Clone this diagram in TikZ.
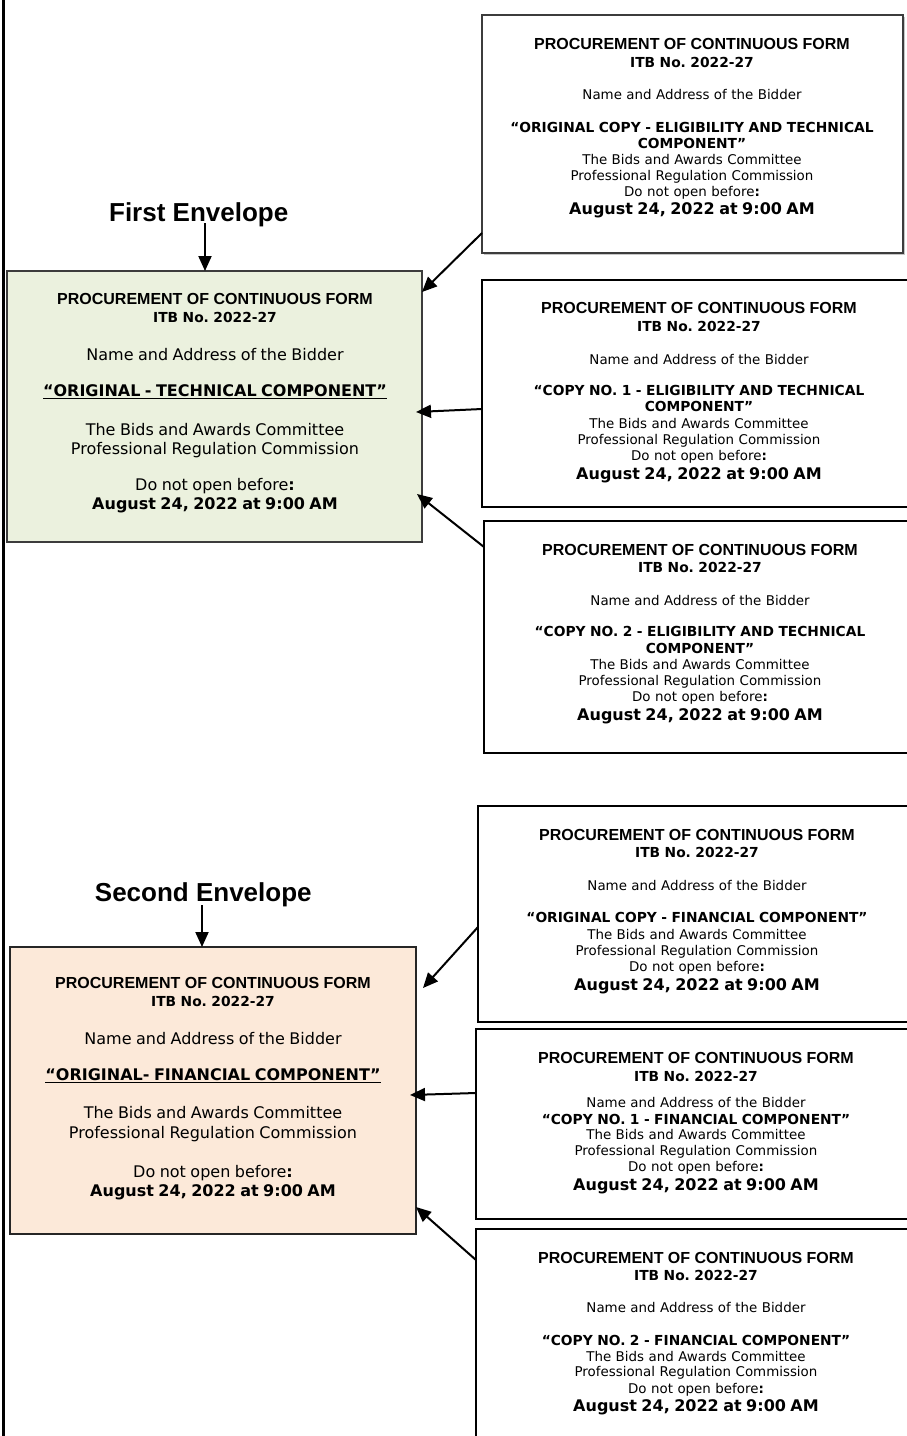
\documentclass[tikz,border=0pt]{standalone}
\usepackage{fontspec}
\newfontfamily\arialf{Liberation Sans}
\newfontfamily\verdf{DejaVu Sans}
\usetikzlibrary{arrows.meta,shadows}
\frenchspacing
\newcommand\PHd{\arialf\bfseries\fontsize{16}{0}\selectfont}
\newcommand\PItb{\verdf\bfseries\fontsize{13.8}{0}\selectfont}
\newcommand\PSm{\verdf\fontsize{13.4}{0}\selectfont}
\newcommand\PSmB{\verdf\bfseries\fontsize{13.8}{0}\selectfont}
\newcommand\PMd{\verdf\fontsize{16}{0}\selectfont}
\newcommand\PMdB{\verdf\bfseries\fontsize{16}{0}\selectfont}
\newcommand\PStrut{\rule{0pt}{12pt}}
\definecolor{gfill}{RGB}{235,241,222}
\definecolor{ofill}{RGB}{252,233,217}
\definecolor{gborder}{RGB}{60,60,60}
\tikzset{
  envbox/.style={draw=black, line width=1.8pt, inner sep=0pt, outer sep=0pt, anchor=north west},
  txtblk/.style={anchor=north, inner sep=0pt, text width=430pt, align=center,
    font={\frenchspacing\lineskiplimit=-1000pt\lineskip=0pt\parskip=0pt\PSm}},
  arr/.style={line width=2pt, -{Triangle[length=15pt,width=13pt]}},
  ttl/.style={font=\arialf\bfseries\fontsize{26}{30}\selectfont, inner sep=0pt, anchor=base}
}
\begin{document}
\begin{tikzpicture}[x=1pt,y=-1pt]
\useasboundingbox (0,0) rectangle (907,1436);
\fill[white] (0,0) rectangle (907,1436);
% left frame line
\draw[line width=3pt] (3,-5) -- (3,1441);

% boxes
\node[envbox, fill=white, drop shadow={shadow xshift=1.5pt,shadow yshift=-1.5pt,fill=gray!45,opacity=1}, draw=gborder, minimum width=421pt, minimum height=238pt] (tr1) at (482,15) {};
\node[envbox, fill=gfill, draw=gborder, minimum width=415pt, minimum height=271pt] (g1) at (7,271) {};
\node[envbox, minimum width=428pt, minimum height=227pt] (tr2) at (482,280) {};
\node[envbox, minimum width=426pt, minimum height=232pt] (tr3) at (484,521) {};
\node[envbox, minimum width=432pt, minimum height=216pt] (tr4) at (478,806) {};
\node[envbox, fill=ofill, draw=black!85, minimum width=406pt, minimum height=287pt] (o1) at (10,947) {};
\node[envbox, minimum width=434pt, minimum height=190pt] (tr5) at (476,1029) {};
\node[envbox, minimum width=434pt, minimum height=230pt] (tr6) at (476,1229) {};

% titles
\node[ttl] (fe) at (198.7,221.7) {First Envelope};
\node[ttl] (se) at (203.3,901.7) {Second Envelope};
\coordinate (fetail) at (205,223);
\coordinate (setail) at (202,905);
\draw[arr] (fetail) -- (fetail |- g1.north);
\draw[arr] (setail) -- (setail |- o1.north);

% texts
\node[txtblk] (g1t) at (215,292.3) {\PStrut{\PHd PROCUREMENT OF CONTINUOUS FORM}\\[18.4pt]{\PItb ITB No. 2022-27}\\[37.3pt]{\PMd Name and Address of the Bidder}\\[36pt]{\PMdB\underline{“ORIGINAL - TECHNICAL COMPONENT”}}\\[39pt]{\PMd The Bids and Awards Committee}\\[19.3pt]{\PMd Professional Regulation Commission}\\[35.7pt]{\PMd Do not open before{\bfseries :}}\\[19.3pt]{\PMdB August 24, 2022 at 9:00 AM}};

\node[txtblk] (o1t) at (213,976.3) {\PStrut{\PHd PROCUREMENT OF CONTINUOUS FORM}\\[18.4pt]{\PItb ITB No. 2022-27}\\[37.6pt]{\PMd Name and Address of the Bidder}\\[35.7pt]{\PMdB\underline{“ORIGINAL- FINANCIAL COMPONENT”}}\\[38.3pt]{\PMd The Bids and Awards Committee}\\[20pt]{\PMd Professional Regulation Commission}\\[39.4pt]{\PMd Do not open before{\bfseries :}}\\[19pt]{\PMdB August 24, 2022 at 9:00 AM}};

\node[txtblk] (tr1t) at (692,37.3) {\PStrut{\PHd PROCUREMENT OF CONTINUOUS FORM}\\[17.5pt]{\PItb ITB No. 2022-27}\\[32pt]{\PSm Name and Address of the Bidder}\\[33pt]{\PSmB “ORIGINAL COPY - ELIGIBILITY AND TECHNICAL}\\[16pt]{\PSmB COMPONENT”}\\[16pt]{\PSm The Bids and Awards Committee}\\[16pt]{\PSm Professional Regulation Commission}\\[16.5pt]{\PSm Do not open before{\bfseries :}}\\[18.3pt]{\PMdB August 24, 2022 at 9:00 AM}};

\node[txtblk] (tr2t) at (699,301.3) {\PStrut{\PHd PROCUREMENT OF CONTINUOUS FORM}\\[18.4pt]{\PItb ITB No. 2022-27}\\[32.3pt]{\PSm Name and Address of the Bidder}\\[31pt]{\PSmB “COPY NO. 1 - ELIGIBILITY AND TECHNICAL}\\[16.7pt]{\PSmB COMPONENT”}\\[16.6pt]{\PSm The Bids and Awards Committee}\\[16pt]{\PSm Professional Regulation Commission}\\[15.7pt]{\PSm Do not open before{\bfseries :}}\\[19.3pt]{\PMdB August 24, 2022 at 9:00 AM}};

\node[txtblk] (tr3t) at (700,543.7) {\PStrut{\PHd PROCUREMENT OF CONTINUOUS FORM}\\[17pt]{\PItb ITB No. 2022-27}\\[33pt]{\PSm Name and Address of the Bidder}\\[31pt]{\PSmB “COPY NO. 2 - ELIGIBILITY AND TECHNICAL}\\[16.6pt]{\PSmB COMPONENT”}\\[16pt]{\PSm The Bids and Awards Committee}\\[16.4pt]{\PSm Professional Regulation Commission}\\[16pt]{\PSm Do not open before{\bfseries :}}\\[19pt]{\PMdB August 24, 2022 at 9:00 AM}};

\node[txtblk] (tr4t) at (697,828.7) {\PStrut{\PHd PROCUREMENT OF CONTINUOUS FORM}\\[17pt]{\PItb ITB No. 2022-27}\\[32.3pt]{\PSm Name and Address of the Bidder}\\[32.7pt]{\PSmB “ORIGINAL COPY - FINANCIAL COMPONENT”}\\[16.3pt]{\PSm The Bids and Awards Committee}\\[16pt]{\PSm Professional Regulation Commission}\\[16pt]{\PSm Do not open before{\bfseries :}}\\[19pt]{\PMdB August 24, 2022 at 9:00 AM}};

\node[txtblk] (tr5t) at (696,1051.3) {\PStrut{\PHd PROCUREMENT OF CONTINUOUS FORM}\\[18.4pt]{\PItb ITB No. 2022-27}\\[26pt]{\PSm Name and Address of the Bidder}\\[16.3pt]{\PSmB “COPY NO. 1 - FINANCIAL COMPONENT”}\\[15.3pt]{\PSm The Bids and Awards Committee}\\[16.4pt]{\PSm Professional Regulation Commission}\\[16pt]{\PSm Do not open before{\bfseries :}}\\[19pt]{\PMdB August 24, 2022 at 9:00 AM}};

\node[txtblk] (tr6t) at (696,1251.3) {\PStrut{\PHd PROCUREMENT OF CONTINUOUS FORM}\\[16.7pt]{\PItb ITB No. 2022-27}\\[32.3pt]{\PSm Name and Address of the Bidder}\\[32.7pt]{\PSmB “COPY NO. 2 - FINANCIAL COMPONENT”}\\[16pt]{\PSm The Bids and Awards Committee}\\[15.7pt]{\PSm Professional Regulation Commission}\\[16.6pt]{\PSm Do not open before{\bfseries :}}\\[18.4pt]{\PMdB August 24, 2022 at 9:00 AM}};

% connectors
\draw[arr] ([yshift=20pt]tr1.south west) -- ([yshift=-21pt]g1.north east);
\draw[arr] ([yshift=-129pt]tr2.north west) -- ([xshift=-6pt,yshift=-141pt]g1.north east);
\draw[arr] ([yshift=-26pt]tr3.north west) -- ([xshift=-5pt,yshift=48pt]g1.south east);
\draw[arr] ([yshift=-121pt]tr4.north west) -- ([xshift=7pt,yshift=-41pt]o1.north east);
\draw[arr] ([yshift=-64pt]tr5.north west) -- ([xshift=-6pt,yshift=-148pt]o1.north east);
\draw[arr] ([yshift=-31pt]tr6.north west) -- ([yshift=27pt]o1.south east);
\end{tikzpicture}
\end{document}
